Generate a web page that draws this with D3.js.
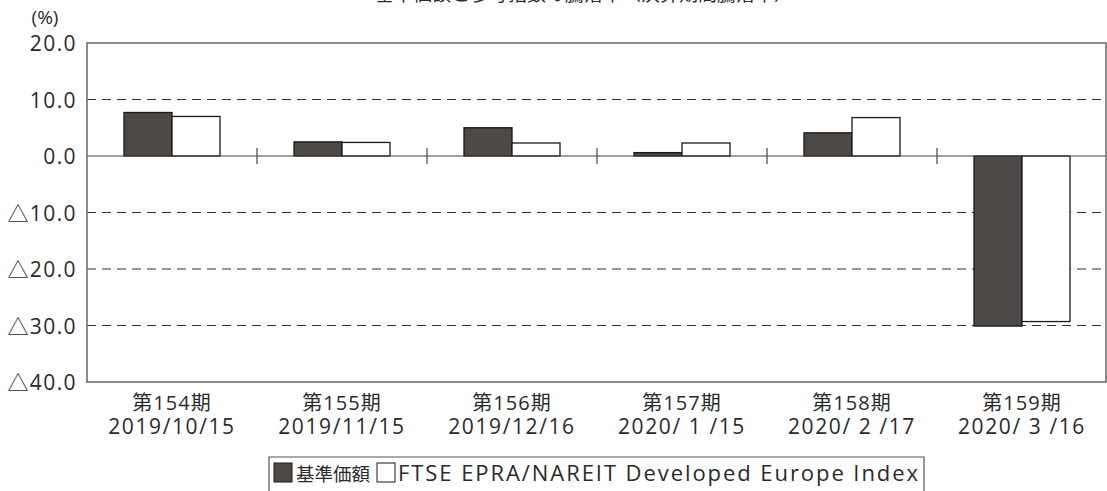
<!DOCTYPE html>
<html><head><meta charset="utf-8">
<script src="https://cdn.jsdelivr.net/npm/d3@7"></script>
<style>body{margin:0;background:#fff;} svg{display:block;font-family:"Open Sans","Noto Sans CJK JP",sans-serif;}</style>
</head><body>
<svg id="c" width="1107" height="491"></svg>
<script>
const periods = ["第154期","第155期","第156期","第157期","第158期","第159期"];
const dates = ["2019/10/15","2019/11/15","2019/12/16","2020/ 1 /15","2020/ 2 /17","2020/ 3 /16"];
const navValues = [7.7, 2.5, 5.0, 0.6, 4.1, -30.1];
const indexValues = [7.0, 2.4, 2.3, 2.3, 6.8, -29.3];
const seriesNames = ["基準価額","FTSE EPRA/NAREIT Developed Europe Index"];
const yTicks = [20, 10, 0, -10, -20, -30, -40];
const yTickLabels = ["20.0","10.0","0.0","△10.0","△20.0","△30.0","△40.0"];
const title = "基準価額と参考指数の騰落率（決算期間騰落率）";

const svg = d3.select("#c");
const L = 87, R = 1106, T = 43, B = 382;
const x = d3.scaleBand().domain(d3.range(periods.length)).range([L, R + 1]).paddingInner(0).paddingOuter(0);
const y = d3.scaleLinear().domain([-40, 20]).range([B, T]);
const barW = 48;
const dark = "#4d4947";
const txt = "#2a2a2a";

// title (cut off at top edge, as in the reference)
svg.append("text").attr("x", 584).attr("y", 1).attr("text-anchor","middle")
  .attr("font-size", 19).attr("fill",txt).text(title);

// unit
svg.append("text").attr("x", 45).attr("y", 24).attr("text-anchor","middle")
  .attr("font-size", 19).attr("fill",txt).text("(%)");

// grid
svg.selectAll("line.grid").data(yTicks.filter(d => d !== 0 && d !== 20 && d !== -40)).enter()
  .append("line").attr("x1", L).attr("x2", R).attr("y1", d => y(d)).attr("y2", d => y(d))
  .attr("stroke", "#333").attr("stroke-width", 1.2).attr("stroke-dasharray", "9,6");

// y labels
svg.selectAll("text.yl").data(yTicks).enter().append("text")
  .attr("x", 77).attr("y", d => y(d) + 8).attr("text-anchor","end")
  .attr("font-size", 21).attr("letter-spacing", 1.4).attr("fill",txt).text((d,i) => yTickLabels[i]);

// bars
const g = svg.append("g");
periods.forEach((p, i) => {
  const cx = x(i) + x.bandwidth() / 2;
  const v1 = navValues[i], v2 = indexValues[i];
  g.append("rect").attr("x", cx - barW).attr("width", barW)
    .attr("y", y(Math.max(0, v1))).attr("height", Math.abs(y(v1) - y(0)))
    .attr("fill", dark).attr("stroke", "#1a1a1a").attr("stroke-width", 1.3);
  g.append("rect").attr("x", cx).attr("width", barW)
    .attr("y", y(Math.max(0, v2))).attr("height", Math.abs(y(v2) - y(0)))
    .attr("fill", "#fff").attr("stroke", "#1a1a1a").attr("stroke-width", 1.3);
});

// zero line
svg.append("line").attr("x1", L).attr("x2", R).attr("y1", y(0)).attr("y2", y(0))
  .attr("stroke", "#444").attr("stroke-width", 1.2);
// separator ticks
svg.selectAll("line.sep").data(d3.range(1, periods.length)).enter().append("line")
  .attr("x1", d => x(d)).attr("x2", d => x(d)).attr("y1", y(0) - 8).attr("y2", y(0) + 8)
  .attr("stroke", "#444").attr("stroke-width", 1.2);

// plot frame
svg.append("path").attr("d", `M${L},${T}H${R}V${B}H${L}Z`).attr("fill","none")
  .attr("stroke","#666").attr("stroke-width",1.5);

// x labels
periods.forEach((p, i) => {
  const cx = x(i) + x.bandwidth() / 2;
  svg.append("text").attr("x", cx).attr("y", 410).attr("text-anchor","middle")
    .attr("font-size", 20).attr("letter-spacing", 1).attr("fill",txt).text(p);
  svg.append("text").attr("x", cx).attr("y", 434).attr("text-anchor","middle")
    .attr("font-size", 21).attr("letter-spacing", 1.6).attr("fill",txt).style("white-space","pre").text(dates[i]);
});

// legend
const lg = svg.append("g");
lg.append("path").attr("d", "M269,491V457H924V491").attr("fill","none").attr("stroke","#555").attr("stroke-width",1.2);
lg.append("rect").attr("x", 274).attr("y", 463).attr("width", 18).attr("height", 19)
  .attr("fill", dark).attr("stroke","#1a1a1a");
lg.append("text").attr("x", 296).attr("y", 481).attr("font-size", 18.5).attr("fill",txt).text(seriesNames[0]);
lg.append("rect").attr("x", 377).attr("y", 463).attr("width", 18).attr("height", 19)
  .attr("fill", "#fff").attr("stroke","#1a1a1a");
lg.append("text").attr("x", 398).attr("y", 481).attr("font-size", 22).attr("fill",txt)
  .attr("textLength", 520).attr("lengthAdjust","spacing").text(seriesNames[1]);
</script>
</body></html>
